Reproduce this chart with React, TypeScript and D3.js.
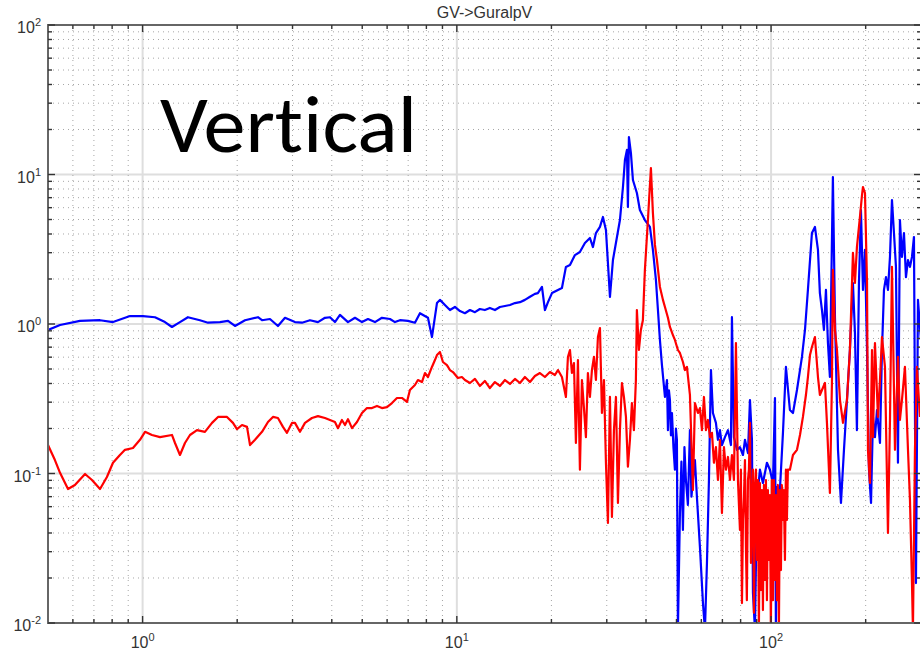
import React from "react";
import * as d3 from "d3";

// Transfer-function magnitude, GV -> Guralp vertical: [frequency (Hz), ratio]
const blueTrace: [number, number][] = [
  [0.500, 0.912], [0.546, 0.985], [0.632, 1.05], [0.732, 1.06], [0.805, 1.03], [0.912, 1.13],
  [1.003, 1.13], [1.095, 1.11], [1.178, 1.03], [1.240, 0.955], [1.315, 1.03], [1.394, 1.11],
  [1.522, 1.06], [1.615, 1.02], [1.763, 1.03], [1.870, 1.05], [1.968, 0.970], [2.118, 1.06],
  [2.329, 1.11], [2.399, 1.06], [2.543, 1.08], [2.696, 0.970], [2.839, 1.10], [3.054, 1.03],
  [3.215, 1.02], [3.409, 1.06], [3.615, 1.03], [3.805, 1.10], [3.947, 1.11], [4.094, 1.03],
  [4.247, 1.15], [4.504, 1.03], [4.741, 1.10], [4.991, 1.03], [5.215, 1.08], [5.489, 1.03],
  [5.777, 1.10], [6.126, 1.08], [6.355, 1.03], [6.592, 1.06], [6.988, 1.05], [7.357, 1.02],
  [7.632, 1.18], [8.093, 1.10], [8.333, 0.818], [8.645, 1.38], [8.836, 1.45], [9.165, 1.34],
  [9.508, 1.24], [9.862, 1.30], [10.23, 1.22], [10.61, 1.18], [11.01, 1.24], [11.42, 1.20],
  [11.84, 1.26], [12.28, 1.24], [12.74, 1.28], [13.22, 1.24], [13.71, 1.30], [14.23, 1.32],
  [14.76, 1.34], [15.31, 1.38], [15.88, 1.40], [16.47, 1.45], [17.09, 1.52], [17.72, 1.59],
  [18.11, 1.61], [18.66, 1.77], [19.07, 1.24], [19.50, 1.40], [20.08, 1.61], [20.98, 1.69],
  [21.60, 1.74], [22.24, 2.41], [22.91, 2.48], [23.76, 2.89], [24.64, 3.03], [25.56, 3.48],
  [26.52, 3.76], [27.11, 3.27], [27.71, 4.06], [28.54, 4.46], [29.17, 5.20], [29.82, 4.25],
  [30.71, 1.52], [31.39, 2.68], [32.33, 3.82], [33.04, 4.96], [33.78, 8.25], [34.27, 12.5],
  [34.78, 14.6], [35.03, 6.06], [35.29, 17.8], [35.81, 13.9], [36.34, 9.19], [37.41, 7.52],
  [38.24, 5.79], [39.67, 4.96], [41.16, 4.46], [42.07, 3.13], [43.01, 1.97], [43.65, 1.24],
  [44.29, 0.782], [44.95, 0.531], [45.95, 0.325], [46.63, 0.422], [46.97, 0.195], [47.31, 0.36],
  [47.66, 0.310], [48.01, 0.18], [48.37, 0.254], [48.90, 0.15], [49.43, 0.106], [49.80, 0.20],
  [50.16, 0.168], [50.53, 0.009], [51.28, 0.0544], [51.85, 0.12], [52.42, 0.0419], [53.00, 0.15],
  [53.58, 0.0905], [54.37, 0.0616], [55.18, 0.195], [55.80, 0.07], [56.40, 0.0905], [57.24, 0.123],
  [58.08, 0.0696], [59.38, 0.0322], [60.70, 0.0136], [61.60, 0.009], [62.51, 0.0252], [63.43, 0.0905],
  [64.37, 0.492], [65.31, 0.254], [66.76, 0.218], [67.75, 0.168], [68.75, 0.195], [69.77, 0.155],
  [71.32, 0.175], [72.91, 0.195], [74.53, 0.155], [75.07, 1.11], [76.18, 0.175], [77.88, 0.144],
  [79.61, 0.150], [81.39, 0.133], [82.59, 0.168], [84.42, 0.137], [85.67, 0.310], [86.93, 0.168],
  [87.57, 0.0159], [88.86, 0.009], [90.16, 0.0665], [92.17, 0.106], [94.21, 0.0864], [97.01, 0.118],
  [99.17, 0.106], [101.4, 0.0864], [102.9, 0.320], [103.6, 0.009], [104.4, 0.0812], [106.7, 0.0775],
  [109.1, 0.187], [111.5, 0.516], [114.8, 0.266], [117.4, 0.254], [120.9, 0.362], [125.4, 0.602],
  [128.2, 0.912], [131.0, 1.69], [134.9, 4.06], [137.9, 4.46], [141.0, 3.13], [143.0, 1.61],
  [145.2, 1.24], [147.3, 0.912], [149.5, 1.69], [151.7, 0.746], [153.9, 0.442], [157.3, 9.62],
  [159.7, 1.11], [163.3, 0.144], [166.9, 0.0635], [170.6, 0.144], [174.4, 0.310], [178.2, 0.670],
  [182.2, 1.88], [184.9, 0.870], [187.6, 0.195], [190.4, 1.88], [193.2, 5.79], [196.1, 1.69],
  [199.0, 3.13], [202.0, 0.670], [204.9, 0.106], [208.0, 0.0635], [211.0, 0.239], [214.1, 0.175],
  [217.3, 0.266], [222.1, 0.160], [225.4, 0.670], [228.7, 1.69], [232.1, 2.06], [235.5, 1.69],
  [239.0, 2.81], [242.5, 6.75], [246.1, 4.06], [249.7, 2.41], [253.4, 0.118], [257.1, 4.96],
  [260.9, 2.81], [264.8, 4.06], [268.7, 2.06], [272.7, 2.68], [276.7, 2.41], [280.8, 2.81],
  [284.9, 3.82], [289.1, 0.0185], [293.4, 1.45], [299.9, 0.782],
];

const redTrace: [number, number][] = [
  [0.500, 0.155], [0.526, 0.123], [0.546, 0.101], [0.579, 0.0787], [0.609, 0.0838], [0.656, 0.0992],
  [0.690, 0.0905], [0.732, 0.0787], [0.770, 0.0947], [0.805, 0.118], [0.847, 0.133], [0.879, 0.144],
  [0.932, 0.148], [0.981, 0.168], [1.018, 0.190], [1.071, 0.181], [1.136, 0.175], [1.240, 0.181],
  [1.268, 0.160], [1.315, 0.133], [1.364, 0.160], [1.415, 0.181], [1.490, 0.195], [1.579, 0.190],
  [1.663, 0.218], [1.738, 0.239], [1.856, 0.239], [1.939, 0.218], [1.997, 0.198], [2.072, 0.211],
  [2.149, 0.205], [2.197, 0.155], [2.279, 0.168], [2.399, 0.190], [2.506, 0.221], [2.599, 0.239],
  [2.696, 0.235], [2.797, 0.205], [2.880, 0.187], [2.988, 0.218], [3.054, 0.218], [3.168, 0.190],
  [3.287, 0.218], [3.459, 0.235], [3.615, 0.242], [3.805, 0.235], [3.947, 0.228], [4.094, 0.221],
  [4.185, 0.201], [4.309, 0.228], [4.406, 0.211], [4.504, 0.231], [4.638, 0.201], [4.811, 0.221],
  [4.991, 0.254], [5.176, 0.274], [5.370, 0.274], [5.570, 0.283], [5.777, 0.274], [5.993, 0.278],
  [6.216, 0.296], [6.449, 0.320], [6.689, 0.320], [6.938, 0.301], [7.092, 0.362], [7.357, 0.391],
  [7.520, 0.422], [7.745, 0.409], [7.917, 0.470], [8.093, 0.442], [8.333, 0.516], [8.518, 0.574],
  [8.645, 0.620], [8.836, 0.650], [9.032, 0.557], [9.301, 0.531], [9.508, 0.492], [9.719, 0.477],
  [10.08, 0.435], [10.38, 0.442], [10.61, 0.422], [11.01, 0.403], [11.42, 0.429], [11.84, 0.385],
  [12.28, 0.416], [12.74, 0.373], [13.22, 0.409], [13.71, 0.385], [14.23, 0.422], [14.76, 0.397],
  [15.31, 0.429], [15.88, 0.403], [16.47, 0.442], [17.09, 0.409], [17.72, 0.449], [18.38, 0.470],
  [19.07, 0.442], [19.78, 0.477], [20.52, 0.456], [20.98, 0.492], [21.60, 0.442], [22.24, 0.325],
  [22.57, 0.602], [22.91, 0.670], [23.24, 0.470], [23.59, 0.548], [23.93, 0.160], [24.29, 0.574],
  [24.64, 0.106], [25.01, 0.422], [25.37, 0.278], [25.75, 0.175], [26.13, 0.470], [26.52, 0.325],
  [26.91, 0.492], [27.31, 0.602], [27.71, 0.422], [28.12, 0.818], [28.54, 0.940], [28.96, 0.254],
  [29.39, 0.422], [29.82, 0.118], [30.26, 0.0467], [30.71, 0.325], [31.16, 0.0512], [31.62, 0.195],
  [32.09, 0.325], [32.56, 0.0635], [33.04, 0.195], [33.53, 0.403], [34.02, 0.325], [34.53, 0.239],
  [35.03, 0.111], [35.55, 0.168], [36.07, 0.296], [36.60, 0.195], [37.14, 0.422], [37.41, 1.24],
  [37.97, 0.670], [38.52, 0.912], [39.09, 1.06], [39.67, 2.30], [40.56, 4.96], [41.46, 11.05],
  [42.07, 5.53], [42.70, 3.38], [43.33, 2.68], [44.29, 1.77], [45.28, 1.45], [45.95, 1.30],
  [46.97, 1.10], [47.66, 0.955], [48.72, 0.844], [49.43, 0.782], [50.53, 0.670], [51.28, 0.640],
  [52.42, 0.557], [53.19, 0.492], [53.98, 0.516], [55.18, 0.335], [56.40, 0.0775], [57.24, 0.296],
  [58.51, 0.254], [59.38, 0.274], [60.26, 0.195], [61.15, 0.325], [62.05, 0.195], [62.96, 0.228],
  [63.90, 0.175], [64.84, 0.187], [65.79, 0.118], [66.76, 0.150], [67.75, 0.0905], [68.75, 0.168],
  [69.77, 0.0544], [70.80, 0.150], [71.84, 0.106], [72.91, 0.129], [73.99, 0.0905], [75.07, 0.133],
  [76.18, 0.0905], [77.31, 0.746], [78.45, 0.0905], [79.61, 0.0419], [80.16, 0.106], [80.79, 0.0136],
  [81.39, 0.0489], [81.98, 0.0696], [82.59, 0.123], [83.18, 0.0322], [83.75, 0.0142], [84.42, 0.0905],
  [85.01, 0.106], [85.67, 0.218], [86.30, 0.0252], [86.93, 0.0544], [87.57, 0.106], [88.22, 0.0117],
  [88.86, 0.080], [89.51, 0.106], [90.16, 0.0264], [90.83, 0.0905], [91.46, 0.009], [92.17, 0.0864],
  [92.82, 0.0166], [93.52, 0.0775], [94.21, 0.0122], [94.91, 0.0838], [95.56, 0.0194], [96.31, 0.0905],
  [97.01, 0.0142], [97.72, 0.0775], [98.40, 0.0264], [99.17, 0.0718], [99.86, 0.009], [100.6, 0.0905],
  [101.4, 0.0142], [102.1, 0.0905], [102.9, 0.0194], [103.6, 0.0718], [104.4, 0.0142], [105.1, 0.0838],
  [105.9, 0.009], [106.7, 0.0775], [107.5, 0.0226], [108.2, 0.0838], [109.1, 0.0489], [109.8, 0.0775],
  [110.7, 0.0264], [111.5, 0.106], [112.3, 0.0489], [113.1, 0.106], [114.8, 0.106], [117.4, 0.133],
  [120.9, 0.144], [123.6, 0.181], [126.3, 0.239], [129.1, 0.335], [131.0, 0.442], [133.0, 0.620],
  [134.9, 0.702], [137.9, 0.818], [141.0, 0.442], [143.0, 0.335], [145.2, 0.362], [148.4, 0.403],
  [150.6, 0.218], [153.9, 0.0741], [156.2, 0.403], [157.3, 2.30], [159.7, 0.912], [162.1, 0.670],
  [165.7, 0.310], [169.4, 0.218], [174.4, 0.310], [178.2, 0.670], [182.2, 2.99], [184.9, 1.88],
  [187.6, 3.27], [191.8, 5.20], [194.7, 7.29], [196.1, 8.25], [199.0, 7.52], [202.0, 1.88],
  [203.4, 0.144], [206.4, 0.0864], [209.5, 0.670], [211.0, 0.175], [214.1, 0.746], [218.9, 0.239],
  [222.1, 0.422], [225.4, 0.818], [230.4, 0.516], [235.5, 0.0400], [239.0, 0.228], [242.5, 2.41],
  [247.9, 0.144], [253.4, 0.602], [257.1, 0.228], [260.9, 0.310], [266.7, 0.516], [272.7, 0.144],
  [276.7, 0.0665], [280.8, 0.0185], [282.8, 0.009], [287.0, 0.144], [291.2, 0.516], [297.7, 0.239],
];

const xMajorTicks = [1, 10, 100];
const xMajorExponents = ["0", "1", "2"];
const yMajorTicks = [0.01, 0.1, 1, 10, 100];
const yMajorExponents = ["-2", "-1", "0", "1", "2"];
const plotTitle = "GV->GuralpV";
const overlayLabel = "Vertical";

const W = 920;
const H = 656;
const L = 48;
const R = 921;
const T = 25;
const B = 623;

const labelFont = "'Liberation Sans', Arial, Helvetica, sans-serif";

function minorsWithin(lo: number, hi: number): number[] {
  const out: number[] = [];
  for (const dec of [0.001, 0.01, 0.1, 1, 10, 100, 1000]) {
    for (let m = 2; m <= 9; m++) {
      const v = dec * m;
      if (v > lo * 1.0001 && v < hi * 0.9999) out.push(v);
    }
  }
  return out;
}

export default function App() {
  const x = d3.scaleLog().domain([0.5, 300]).range([L, R]);
  const y = d3.scaleLog().domain([0.01, 100]).range([B, T]);
  const line = d3
    .line<[number, number]>()
    .x((d) => x(d[0]))
    .y((d) => y(Math.max(d[1], 0.008)));

  const xMinor = minorsWithin(0.5, 300);
  const yMinor = minorsWithin(0.01, 100);
  const yMajorInner = yMajorTicks.filter((v) => v > 0.01 && v < 100);

  const gridDot = { stroke: "#a6a6a6", strokeWidth: 1, strokeDasharray: "1 4" };
  const majorGrid = { stroke: "#dedede", strokeWidth: 2 };
  const tickStroke = { stroke: "#333", strokeWidth: 1.4 };

  return (
    <svg
      width={W}
      height={H}
      style={{ position: "absolute", left: 0, top: 0, display: "block", background: "#fff" }}
    >
      <defs>
        <clipPath id="plot-area">
          <rect x={L} y={T} width={R - L} height={B - T} />
        </clipPath>
      </defs>
      <rect x={0} y={0} width={W} height={H} fill="#fff" />

      {/* major grid */}
      {xMajorTicks.map((v) => (
        <line key={`gxM${v}`} x1={x(v)} x2={x(v)} y1={T} y2={B} {...majorGrid} />
      ))}
      {yMajorInner.map((v) => (
        <line key={`gyM${v}`} x1={L} x2={R} y1={y(v)} y2={y(v)} {...majorGrid} />
      ))}

      {/* minor grid */}
      {xMinor.map((v) => (
        <line key={`gx${v}`} x1={x(v)} x2={x(v)} y1={T} y2={B} {...gridDot} />
      ))}
      {yMinor.map((v) => (
        <line key={`gy${v}`} x1={L} x2={R} y1={y(v)} y2={y(v)} {...gridDot} />
      ))}

      {/* traces */}
      <g clipPath="url(#plot-area)" fill="none" strokeWidth={2.2} strokeLinejoin="round">
        <path d={line(blueTrace) || ""} stroke="#0000ff" />
        <path d={line(redTrace) || ""} stroke="#ff0000" />
      </g>

      {/* axes box */}
      <rect x={L} y={T} width={R - L} height={B - T} fill="none" stroke="#666" strokeWidth={2} />

      {/* ticks */}
      {xMajorTicks.map((v) => (
        <g key={`tx${v}`}>
          <line x1={x(v)} x2={x(v)} y1={B} y2={B - 7} {...tickStroke} />
          <line x1={x(v)} x2={x(v)} y1={T} y2={T + 7} {...tickStroke} />
        </g>
      ))}
      {xMinor.map((v) => (
        <g key={`txm${v}`}>
          <line x1={x(v)} x2={x(v)} y1={B} y2={B - 4} {...tickStroke} />
          <line x1={x(v)} x2={x(v)} y1={T} y2={T + 4} {...tickStroke} />
        </g>
      ))}
      {yMajorTicks.map((v) => (
        <g key={`ty${v}`}>
          <line x1={L} x2={L + 7} y1={y(v)} y2={y(v)} {...tickStroke} />
          <line x1={R} x2={R - 7} y1={y(v)} y2={y(v)} {...tickStroke} />
        </g>
      ))}
      {yMinor.map((v) => (
        <g key={`tym${v}`}>
          <line x1={L} x2={L + 4} y1={y(v)} y2={y(v)} {...tickStroke} />
          <line x1={R} x2={R - 4} y1={y(v)} y2={y(v)} {...tickStroke} />
        </g>
      ))}

      {/* tick labels */}
      <g fill="#333" fontFamily={labelFont}>
        {xMajorTicks.map((v, i) => (
          <text key={`lx${v}`} x={x(v)} y={648} textAnchor="middle" fontSize={16}>
            10
            <tspan dy={-7} fontSize={11}>
              {xMajorExponents[i]}
            </tspan>
          </text>
        ))}
        {yMajorTicks.map((v, i) => (
          <text key={`ly${v}`} x={41} y={y(v) + 8} textAnchor="end" fontSize={16}>
            10
            <tspan dy={-7} fontSize={11}>
              {yMajorExponents[i]}
            </tspan>
          </text>
        ))}
        <text x={(L + R) / 2} y={18} textAnchor="middle" fontSize={16}>
          {plotTitle}
        </text>
      </g>

      <text
        x={160}
        y={152}
        fontFamily="Carlito, Calibri, 'Open Sans', Lato, sans-serif"
        fontSize={80}
        fill="#000"
        textLength={257}
        lengthAdjust="spacingAndGlyphs"
        style={{ fontVariantLigatures: "none", fontFeatureSettings: "'liga' 0, 'dlig' 0" }}
      >
        {overlayLabel}
      </text>
    </svg>
  );
}
